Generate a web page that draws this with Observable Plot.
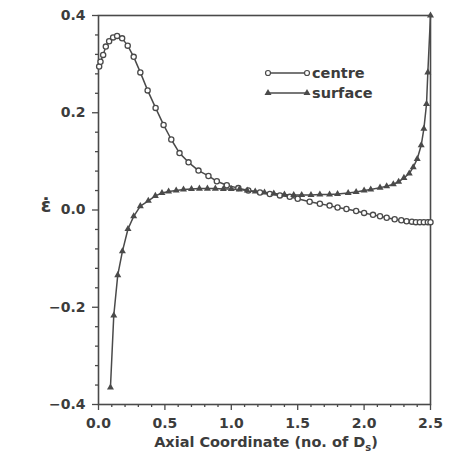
<!DOCTYPE html>
<html>
<head>
<meta charset="utf-8">
<script src="https://cdn.jsdelivr.net/npm/d3@7"></script>
<script src="https://cdn.jsdelivr.net/npm/@observablehq/plot@0.6"></script>
<style>
  html, body { margin: 0; padding: 0; background: #fff; }
  #chart { width: 453px; height: 461px; }
</style>
</head>
<body>
<div id="chart"></div>
<script>
// Centre (open circles)
const centreX = [0.005, 0.015, 0.035, 0.055, 0.08, 0.11, 0.14, 0.178, 0.22, 0.265, 0.315, 0.37, 0.43, 0.49, 0.548,
  0.61, 0.678, 0.753, 0.828, 0.891, 0.966, 1.053, 1.128, 1.216, 1.29, 1.366, 1.44, 1.50, 1.59, 1.667, 1.74, 1.80,
  1.867, 1.94, 2.0, 2.067, 2.12, 2.17, 2.23, 2.28, 2.32, 2.36, 2.39, 2.42, 2.45, 2.48, 2.50];
const centreY = [0.295, 0.305, 0.319, 0.336, 0.347, 0.355, 0.358, 0.353, 0.338, 0.315, 0.283, 0.246, 0.21, 0.175, 0.145,
  0.117, 0.098, 0.081, 0.07, 0.059, 0.051, 0.045, 0.040, 0.036, 0.033, 0.030, 0.027, 0.023, 0.017, 0.013, 0.009, 0.005,
  0.002, -0.002, -0.006, -0.010, -0.013, -0.016, -0.019, -0.021, -0.023, -0.024, -0.025, -0.025, -0.025, -0.025, -0.025];

// Surface (filled triangles)
const surfaceX = [0.09, 0.115, 0.145, 0.18, 0.222, 0.265, 0.315, 0.375, 0.428, 0.478, 0.528, 0.585, 0.64, 0.70, 0.76,
  0.82, 0.88, 0.94, 1.0, 1.06, 1.12, 1.18, 1.25, 1.32, 1.40, 1.47, 1.53, 1.60, 1.667, 1.74, 1.80, 1.88, 1.94, 2.0,
  2.05, 2.12, 2.17, 2.22, 2.26, 2.30, 2.34, 2.37, 2.40, 2.43, 2.45, 2.47, 2.48, 2.50];
const surfaceY = [-0.365, -0.217, -0.134, -0.085, -0.039, -0.013, 0.008, 0.019, 0.029, 0.035, 0.038, 0.040, 0.042, 0.043, 0.044,
  0.044, 0.044, 0.043, 0.043, 0.042, 0.040, 0.038, 0.036, 0.034, 0.032, 0.031, 0.031, 0.031, 0.032, 0.032, 0.033, 0.035, 0.037, 0.040,
  0.042, 0.046, 0.049, 0.053, 0.058, 0.066, 0.075, 0.088, 0.105, 0.133, 0.167, 0.218, 0.283, 0.40];

const xMajor = [0, 0.5, 1.0, 1.5, 2.0, 2.5];
const xMinor = d3.range(0, 25).map(i => i / 10).filter(v => Math.abs(v * 2 - Math.round(v * 2)) > 1e-9);
const yMajor = [-0.4, -0.2, 0.0, 0.2, 0.4];
const yMinor = d3.range(-10, 11).map(i => i * 0.04).filter(v => Math.abs(v / 0.2 - Math.round(v / 0.2)) > 1e-6);

const seriesNames = ["centre", "surface"];
const xLabel = "Axial Coordinate (no. of D";
const xLabelSub = "s";
const yLabel = "ε\u0307";

const centre = centreX.map((x, i) => ({x, y: centreY[i]}));
const surface = surfaceX.map((x, i) => ({x, y: surfaceY[i]}));

const ink = "#4a4a4a";
const fmt = d3.format(".1f");

const chart = Plot.plot({
  width: 453,
  height: 461,
  marginLeft: 98,
  marginRight: 23,
  marginTop: 15,
  marginBottom: 57,
  x: {domain: [0, 2.5]},
  y: {domain: [-0.4, 0.4]},
  style: {fontFamily: "DejaVu Sans", fontWeight: "bold", color: "#3c3c3c", background: "#fff"},
  marks: [
    Plot.axisX({ticks: xMajor, tickSize: 6, tickPadding: 8, tickFormat: fmt, fontSize: 14, label: null, stroke: ink, strokeWidth: 1.3}),
    Plot.axisX({ticks: xMinor, tickSize: 3, tickFormat: () => "", label: null, stroke: ink, strokeWidth: 1.3}),
    Plot.axisY({ticks: yMajor, tickSize: 6, tickPadding: 7, tickFormat: fmt, fontSize: 14, label: null, stroke: ink, strokeWidth: 1.3}),
    Plot.axisY({ticks: yMinor, tickSize: 3, tickFormat: () => "", label: null, stroke: ink, strokeWidth: 1.3}),
    Plot.frame({stroke: ink, strokeWidth: 1.6}),
    Plot.line(centre, {x: "x", y: "y", stroke: ink, strokeWidth: 1.5}),
    Plot.line(surface, {x: "x", y: "y", stroke: ink, strokeWidth: 1.5}),
    Plot.dot(centre, {x: "x", y: "y", r: 2.6, stroke: ink, strokeWidth: 1.3, fill: "#fff"}),
    Plot.dot(surface, {x: "x", y: "y", symbol: "triangle", r: 2.6, fill: ink, stroke: "none"})
  ]
});

const svg = d3.select(chart);

// Legend
const legendRows = [{name: seriesNames[0], y: 73, kind: "circle"}, {name: seriesNames[1], y: 93, kind: "triangle"}];
const lg = svg.append("g").attr("font-family", "DejaVu Sans").attr("font-weight", "bold")
  .attr("fill", "#3c3c3c").attr("text-anchor", "start");
legendRows.forEach(r => {
  lg.append("line").attr("x1", 268).attr("x2", 307).attr("y1", r.y).attr("y2", r.y)
    .attr("stroke", ink).attr("stroke-width", 1.5);
  [268, 307].forEach(cx => {
    if (r.kind === "circle") {
      lg.append("circle").attr("cx", cx).attr("cy", r.y).attr("r", 2.5)
        .attr("fill", "#fff").attr("stroke", ink).attr("stroke-width", 1.2);
    } else {
      lg.append("path").attr("d", d3.symbol(d3.symbolTriangle, Math.PI * 2.6 * 2.6)())
        .attr("transform", `translate(${cx},${r.y})`).attr("fill", ink);
    }
  });
  lg.append("text").attr("x", 312).attr("y", r.y).attr("dy", "0.35em").attr("text-anchor", "start")
    .attr("font-size", 14.5).text(r.name);
});

// X axis label with subscript
const xl = svg.append("text").attr("x", 266).attr("y", 447).attr("text-anchor", "middle")
  .attr("font-family", "DejaVu Sans").attr("font-weight", "bold").attr("font-size", 14.5).attr("fill", "#3c3c3c");
xl.append("tspan").text(xLabel);
xl.append("tspan").attr("font-size", 10).attr("dy", 4).text(xLabelSub);
xl.append("tspan").attr("dy", -4).text(")");

// Y axis label
svg.append("text").attr("x", 46).attr("y", 212).attr("text-anchor", "middle")
  .attr("font-family", "DejaVu Sans").attr("font-weight", "bold").attr("font-size", 19).attr("fill", "#3c3c3c")
  .text(yLabel);

document.getElementById("chart").appendChild(chart);
</script>
</body>
</html>
